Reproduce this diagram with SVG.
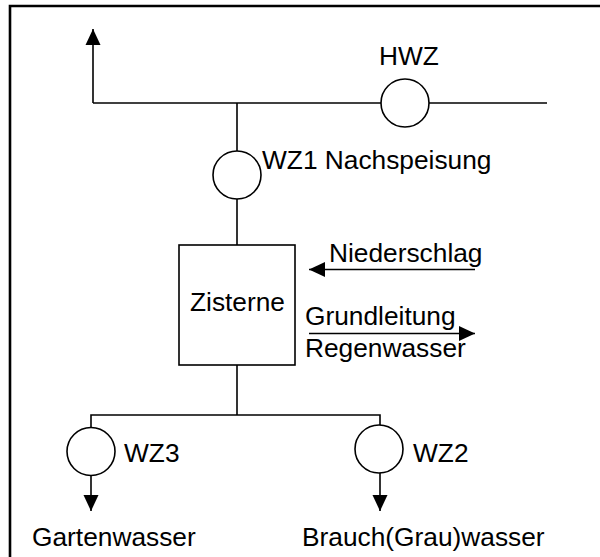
<svg xmlns="http://www.w3.org/2000/svg" width="600" height="557" viewBox="0 0 600 557">
<style>
.ln{stroke:#000;stroke-width:1.6;fill:none}
.mt{stroke:#000;stroke-width:1.6;fill:#fff}
.t{font-family:"Liberation Sans",Arial,sans-serif;font-size:26.3px;fill:#000}
</style>
<defs>
<marker id="ah" markerUnits="userSpaceOnUse" markerWidth="16" markerHeight="16" viewBox="0 0 16 15" refX="16" refY="7.5" orient="auto">
<path d="M0,0 L16,7.5 L0,15 z" fill="#000"/>
</marker>
</defs>
<rect width="600" height="557" fill="#fff"/>
<g id="frame">
<path d="M10,557 V6 H600" stroke="#000" stroke-width="2.6" fill="none"/>
</g>
<g id="connectors">
<path class="ln" d="M93,103 H381" />
<path class="ln" d="M93,103 V29" marker-end="url(#ah)"/>
<path class="ln" d="M429,103 H547"/>
<path class="ln" d="M237,103 V151"/>
<path class="ln" d="M237,199 V245"/>
<path class="ln" d="M237,365 V415"/>
<path class="ln" d="M91,427 V415 H380 V425"/>
<path class="ln" d="M91,476 V511" marker-end="url(#ah)"/>
<path class="ln" d="M380,473 V511" marker-end="url(#ah)"/>
<path class="ln" d="M475,269.5 H309" marker-end="url(#ah)"/>
<path class="ln" d="M309,333.5 H475" marker-end="url(#ah)"/>
</g>
<g id="HWZ">
<circle class="mt" cx="405" cy="103" r="24"/>
<text class="t" x="379" y="65">HWZ</text>
</g>
<g id="WZ1">
<circle class="mt" cx="237" cy="175" r="24"/>
<text class="t" x="262" y="169">WZ1 Nachspeisung</text>
</g>
<g id="Zisterne">
<rect class="mt" x="179" y="245" width="116" height="120"/>
<text class="t" x="190" y="311">Zisterne</text>
</g>
<g id="Niederschlag">
<text class="t" x="329" y="261.5">Niederschlag</text>
</g>
<g id="Grundleitung">
<text class="t" x="305" y="325">Grundleitung</text>
<text class="t" x="305" y="357">Regenwasser</text>
</g>
<g id="WZ3">
<circle class="mt" cx="91" cy="451.5" r="24"/>
<text class="t" x="124" y="461.5">WZ3</text>
<text class="t" x="32" y="545.5">Gartenwasser</text>
</g>
<g id="WZ2">
<circle class="mt" cx="379" cy="449" r="24"/>
<text class="t" x="413" y="461.5">WZ2</text>
<text class="t" x="302" y="545.5">Brauch(Grau)wasser</text>
</g>
</svg>
